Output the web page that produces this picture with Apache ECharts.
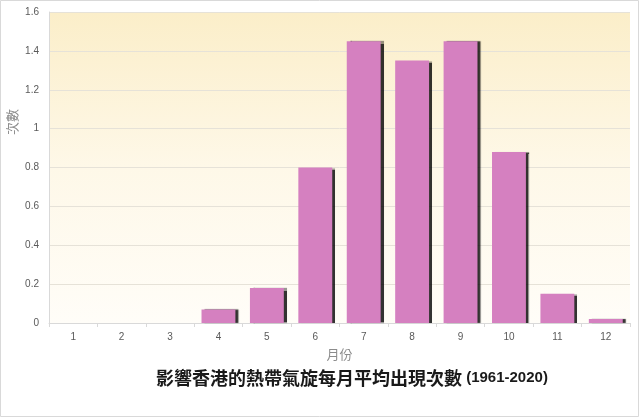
<!DOCTYPE html>
<html>
<head>
<meta charset="utf-8">
<script src="https://cdn.jsdelivr.net/npm/echarts@6/dist/echarts.min.js"></script>
<style>
html, body { margin: 0; padding: 0; background: #fff; }
#main { width: 640px; height: 418px; }
</style>
</head>
<body>
<div id="main"></div>
<script>
// 每月平均次數 (1961-2020)
var months = ['1', '2', '3', '4', '5', '6', '7', '8', '9', '10', '11', '12'];
var counts = [0, 0, 0, 0.07, 0.18, 0.8, 1.45, 1.35, 1.45, 0.88, 0.15, 0.02];
var yTicks = [0, 0.2, 0.4, 0.6, 0.8, 1, 1.2, 1.4, 1.6];

var chart = echarts.init(document.getElementById('main'));
var option = {
    animation: false,
    backgroundColor: '#ffffff',
    title: {
        text: '{zh|影響香港的熱帶氣旋每月平均出現次數}{num| (1961-2020)}',
        left: 151,
        top: 364,
        textStyle: {
            rich: {
                zh: { fontFamily: 'Noto Sans CJK TC', fontSize: 18, color: '#1a1a1a' },
                num: { fontFamily: 'Liberation Sans', fontSize: 15, fontWeight: 'bold', color: '#1a1a1a' }
            }
        }
    },
    graphic: [
        {
            type: 'rect',
            shape: { x: 0.5, y: 0.5, width: 638, height: 416 },
            style: { fill: 'none', stroke: '#d9d9d9', lineWidth: 1 },
            z: 100
        },
        {
            type: 'text',
            x: 12, y: 122,
            rotation: Math.PI / 2,
            style: {
                text: '次數',
                fill: '#8c8c8c',
                font: '13px "Noto Sans CJK TC"',
                align: 'center',
                verticalAlign: 'middle'
            }
        }
    ],
    grid: {
        left: 49, right: 10, top: 12, bottom: 95,
        show: true,
        borderWidth: 0,
        backgroundColor: new echarts.graphic.LinearGradient(0, 0, 0, 1, [
            { offset: 0, color: '#fbeec9' },
            { offset: 0.5, color: '#fef8e8' },
            { offset: 1, color: '#fffdf8' }
        ])
    },
    xAxis: {
        type: 'category',
        data: months,
        name: '月份',
        nameLocation: 'middle',
        nameGap: 25,
        nameTextStyle: { color: '#8c8c8c', fontSize: 13, fontFamily: 'Noto Sans CJK TC' },
        axisLine: { lineStyle: { color: '#d9d9d9' } },
        axisTick: { show: true, length: 4, lineStyle: { color: '#d9d9d9' } },
        axisLabel: { color: '#595959', fontSize: 10, margin: 9, fontFamily: 'Liberation Sans' }
    },
    yAxis: {
        type: 'value',
        min: yTicks[0],
        max: yTicks[yTicks.length - 1],
        interval: 0.2,
        axisLine: { show: true, lineStyle: { color: '#d9d9d9' } },
        axisTick: { show: false },
        axisLabel: { color: '#595959', fontSize: 10, margin: 10, fontFamily: 'Liberation Sans' },
        splitLine: { lineStyle: { color: '#e6e2d8' } }
    },
    series: [
        {
            name: '次數',
            type: 'bar',
            data: counts,
            barWidth: '70%',
            itemStyle: {
                color: '#d580c0',
                shadowColor: 'rgba(0,0,0,0.8)',
                shadowOffsetX: 3,
                shadowOffsetY: 0,
                shadowBlur: 1
            }
        }
    ]
};
chart.setOption(option);
</script>
</body>
</html>
